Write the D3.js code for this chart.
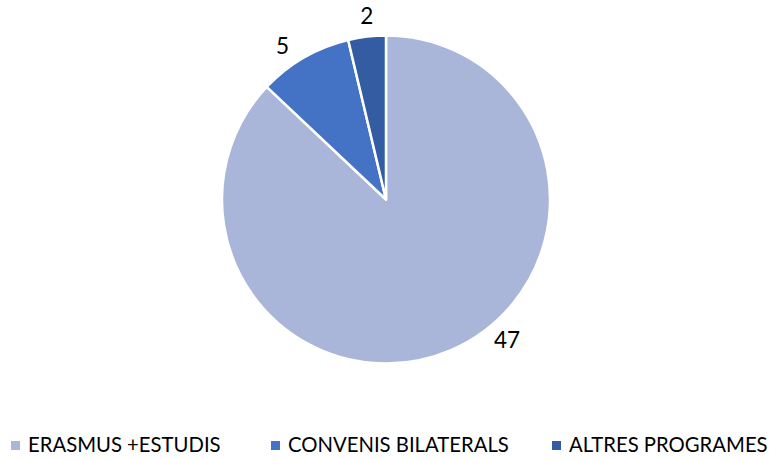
<!DOCTYPE html>
<html><head><meta charset="utf-8">
<script src="https://cdn.jsdelivr.net/npm/d3@7"></script>
<style>body{margin:0;background:#fff}svg{display:block}</style>
</head><body>
<svg id="c" width="777" height="459"></svg>
<script>
const categories = ["ERASMUS +ESTUDIS", "CONVENIS BILATERALS", "ALTRES PROGRAMES"];
const values = [47, 5, 2];
const colors = ["#A9B6DA", "#4472C4", "#335CA3"];
// label placement shift (degrees) relative to slice mid-angle, as Excel's best-fit placed them
const labelShift = [-17.5, -4, 0.7];

const svg = d3.select("#c");
const cx = 386, cy = 199.5, R = 164;

const pie = d3.pie().sort(null).value(d => d.v);
const data = categories.map((c, i) => ({c, v: values[i], col: colors[i], shift: labelShift[i]}));
const arcs = pie(data);
const arc = d3.arc().innerRadius(0).outerRadius(R);

const g = svg.append("g").attr("transform", `translate(${cx},${cy})`);
g.selectAll("path").data(arcs).join("path")
  .attr("d", arc)
  .attr("fill", d => d.data.col)
  .attr("stroke", "#fff")
  .attr("stroke-width", 2.5)
  .attr("stroke-linejoin", "round");

const LR = R + 21;
function labelPos(d) {
  const a = (d.startAngle + d.endAngle) / 2 + d.data.shift * Math.PI / 180;
  return [LR * Math.sin(a), -LR * Math.cos(a)];
}
g.selectAll("text").data(arcs).join("text")
  .attr("x", d => labelPos(d)[0])
  .attr("y", d => labelPos(d)[1])
  .attr("text-anchor", "middle")
  .attr("dy", "0.36em")
  .attr("font-family", "Lato, 'Open Sans', sans-serif")
  .attr("font-size", 22.5)
  .attr("fill", "#000")
  .text(d => d.data.v);

const legendX = [11, 271, 552];
const items = svg.append("g").selectAll("g").data(data).join("g")
  .attr("transform", (d, i) => `translate(${legendX[i]},0)`);
items.append("rect").attr("x", 0).attr("y", 441).attr("width", 9).attr("height", 9)
  .attr("fill", d => d.col);
items.append("text").attr("x", 17).attr("y", 452)
  .attr("font-family", "Lato, 'Open Sans', sans-serif")
  .attr("font-size", 20.3)
  .attr("fill", "#000")
  .text(d => d.c);
</script>
</body></html>
